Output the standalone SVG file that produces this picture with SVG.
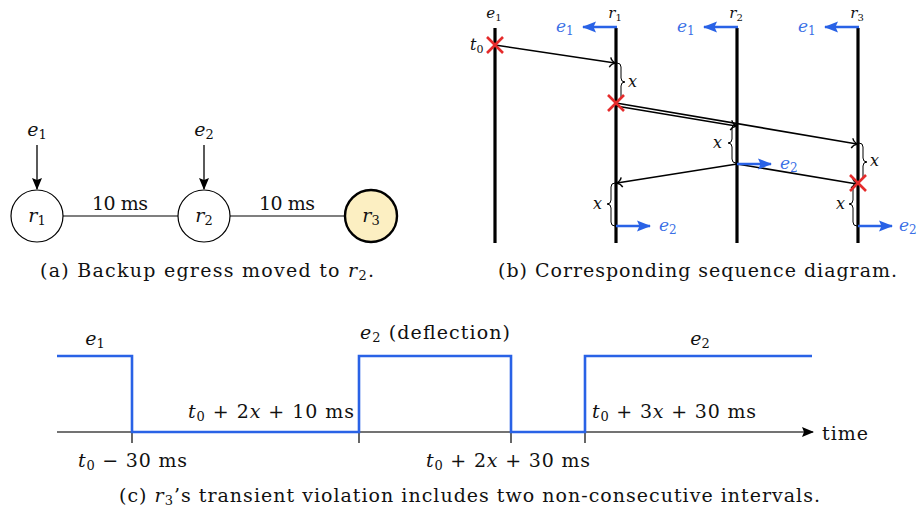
<svg xmlns="http://www.w3.org/2000/svg" width="918" height="513" viewBox="0 0 918 513" font-family="'DejaVu Serif',serif">
<defs>
<style>
text{font-family:"DejaVu Serif",serif;fill:#111}
.it{font-style:italic}
.b{fill:#3a6fe6}
.life{stroke:#000;stroke-width:3.2;fill:none}
.msg{stroke:#000;stroke-width:1.6;fill:none}
.br{stroke:#000;stroke-width:1;fill:none}
.blue{stroke:#2962e6;stroke-width:2.6;fill:none}
.x{stroke:#e52b2b;stroke-width:2.6;fill:none}
.edge{stroke:#555;stroke-width:1.4;fill:none}
</style>
<marker id="to" viewBox="-7 -6 9 12" refX="0" refY="0" markerWidth="9" markerHeight="12" markerUnits="userSpaceOnUse" orient="auto"><path d="M-5,-5 C-4,-2 -1,-0.5 0.5,0 C-1,0.5 -4,2 -5,5" fill="none" stroke="#000" stroke-width="1.4"/></marker>
<marker id="bt" viewBox="0 -6 14 12" refX="13" refY="0" markerWidth="14" markerHeight="12" markerUnits="userSpaceOnUse" orient="auto"><path d="M0,-5.5 L14,0 L0,5.5 L2.5,0 z" fill="#2962e6"/></marker>
<marker id="kt" viewBox="0 -6 12 12" refX="11" refY="0" markerWidth="12" markerHeight="12" markerUnits="userSpaceOnUse" orient="auto"><path d="M0,-5 L12,0 L0,5 L2,0 z" fill="#000"/></marker>
</defs>

<!-- Panel (a) -->
<g id="a-edges">
<line class="edge" x1="63" y1="216" x2="178" y2="216"/>
<line class="edge" x1="230" y1="216" x2="345" y2="216"/>
<line stroke="#000" stroke-width="1.3" x1="37" y1="145" x2="37" y2="189" marker-end="url(#kt)"/>
<line stroke="#000" stroke-width="1.3" x1="204" y1="145" x2="204" y2="189" marker-end="url(#kt)"/>
</g>
<g id="a-r1"><circle cx="37" cy="216" r="26" fill="#fff" stroke="#000" stroke-width="1.2"/><text x="37" y="222" font-size="19" text-anchor="middle"><tspan class="it">r</tspan><tspan font-size="13" dy="3">1</tspan></text></g>
<g id="a-r2"><circle cx="204" cy="216" r="26" fill="#fff" stroke="#000" stroke-width="1.2"/><text x="204" y="222" font-size="19" text-anchor="middle"><tspan class="it">r</tspan><tspan font-size="13" dy="3">2</tspan></text></g>
<g id="a-r3"><circle cx="371" cy="216" r="26" fill="#fcefc2" stroke="#000" stroke-width="2.4"/><text x="371" y="222" font-size="19" text-anchor="middle"><tspan class="it">r</tspan><tspan font-size="13" dy="3">3</tspan></text></g>
<g id="a-labels">
<text x="37" y="136" font-size="19" text-anchor="middle"><tspan class="it">e</tspan><tspan font-size="13" dy="3">1</tspan></text>
<text x="204" y="136" font-size="19" text-anchor="middle"><tspan class="it">e</tspan><tspan font-size="13" dy="3">2</tspan></text>
<text x="92" y="210" font-size="19" textLength="56">10 ms</text>
<text x="259" y="210" font-size="19" textLength="56">10 ms</text>
<text x="40" y="277" font-size="19" textLength="334">(a) Backup egress moved to <tspan class="it">r</tspan><tspan font-size="13" dy="3">2</tspan><tspan dy="-3">.</tspan></text>
</g>

<!-- Panel (b) -->
<g id="b-lifelines">
<line class="life" x1="495" y1="28" x2="495" y2="243"/>
<line class="life" x1="616" y1="28" x2="616" y2="243"/>
<line class="life" x1="737" y1="28" x2="737" y2="243"/>
<line class="life" x1="858" y1="28" x2="858" y2="243"/>
<text x="494" y="18" font-size="15" text-anchor="middle"><tspan class="it">e</tspan><tspan font-size="10" dy="3">1</tspan></text>
<text x="615" y="18" font-size="15" text-anchor="middle"><tspan class="it">r</tspan><tspan font-size="10" dy="3">1</tspan></text>
<text x="736" y="18" font-size="15" text-anchor="middle"><tspan class="it">r</tspan><tspan font-size="10" dy="3">2</tspan></text>
<text x="857" y="18" font-size="15" text-anchor="middle"><tspan class="it">r</tspan><tspan font-size="10" dy="3">3</tspan></text>
</g>
<g id="b-connectors">
<line class="blue" x1="617" y1="27" x2="583" y2="27" marker-end="url(#bt)"/>
<line class="blue" x1="738" y1="27" x2="704" y2="27" marker-end="url(#bt)"/>
<line class="blue" x1="859" y1="27" x2="825" y2="27" marker-end="url(#bt)"/>
<line class="msg" x1="495" y1="45" x2="615" y2="63" marker-end="url(#to)"/>
<line class="msg" x1="616" y1="103" x2="857" y2="144" marker-end="url(#to)"/>
<line class="msg" x1="616" y1="106" x2="736" y2="126" marker-end="url(#to)"/>
<line class="msg" x1="737" y1="164" x2="617" y2="183" marker-end="url(#to)"/>
<line class="msg" x1="737" y1="164" x2="857" y2="184" marker-end="url(#to)"/>
<line class="blue" x1="737" y1="164" x2="771" y2="164" marker-end="url(#bt)"/>
<line class="blue" x1="616" y1="226" x2="650" y2="226" marker-end="url(#bt)"/>
<line class="blue" x1="858" y1="226" x2="892" y2="226" marker-end="url(#bt)"/>
<path class="br" d="M617,63 q4,0 4,4 v11 q0,4 4,4 q-4,0 -4,4 v11 q0,4 -4,4"/>
<path class="br" d="M736,124 q-4,0 -4,4 v11 q0,4 -4,4 q4,0 4,4 v12 q0,4 4,4"/>
<path class="br" d="M859,143 q4,0 4,4 v11 q0,4 4,4 q-4,0 -4,4 v11 q0,4 -4,4"/>
<path class="br" d="M857,183 q-4,0 -4,4 v13 q0,4 -4,4 q4,0 4,4 v14 q0,4 4,4"/>
<path class="br" d="M615,183 q-4,0 -4,4 v13 q0,4 -4,4 q4,0 4,4 v14 q0,4 4,4"/>
<path class="x" d="M487,37 L503,53 M503,37 L487,53"/>
<path class="x" d="M608,95 L624,111 M624,95 L608,111"/>
<path class="x" d="M850,175 L866,191 M866,175 L850,191"/>
</g>
<g id="b-labels">
<text x="470" y="50" font-size="16" class="it">t<tspan font-size="11" dy="3" font-style="normal">0</tspan></text>
<text x="628" y="87" font-size="16" class="it">x</text>
<text x="713" y="148" font-size="16" class="it">x</text>
<text x="870" y="166" font-size="16" class="it">x</text>
<text x="836" y="209" font-size="16" class="it">x</text>
<text x="593" y="209" font-size="16" class="it">x</text>
<text class="b" x="556" y="32" font-size="17"><tspan class="it">e</tspan><tspan font-size="12" dy="3">1</tspan></text>
<text class="b" x="677" y="32" font-size="17"><tspan class="it">e</tspan><tspan font-size="12" dy="3">1</tspan></text>
<text class="b" x="798" y="32" font-size="17"><tspan class="it">e</tspan><tspan font-size="12" dy="3">1</tspan></text>
<text class="b" x="780" y="169" font-size="17"><tspan class="it">e</tspan><tspan font-size="12" dy="3">2</tspan></text>
<text class="b" x="659" y="231" font-size="17"><tspan class="it">e</tspan><tspan font-size="12" dy="3">2</tspan></text>
<text class="b" x="899" y="231" font-size="17"><tspan class="it">e</tspan><tspan font-size="12" dy="3">2</tspan></text>
<text x="498" y="277" font-size="19" textLength="399">(b) Corresponding sequence diagram.</text>
</g>

<!-- Panel (c) -->
<g id="c-axis">
<line stroke="#444" stroke-width="1.3" x1="57" y1="432" x2="813" y2="432" marker-end="url(#kt)"/>
<line stroke="#000" stroke-width="1.2" x1="132" y1="421" x2="132" y2="443"/>
<line stroke="#000" stroke-width="1.2" x1="359" y1="421" x2="359" y2="443"/>
<line stroke="#000" stroke-width="1.2" x1="511" y1="421" x2="511" y2="443"/>
<line stroke="#000" stroke-width="1.2" x1="585" y1="421" x2="585" y2="443"/>
<text x="822" y="440" font-size="19" textLength="46">time</text>
</g>
<g id="c-signal">
<path class="blue" stroke-width="3" d="M57,356 H132 V432 H359 V356 H511 V432 H585 V356 H812"/>
</g>
<g id="c-labels">
<text x="95" y="345" font-size="19" text-anchor="middle"><tspan class="it">e</tspan><tspan font-size="13" dy="3">1</tspan></text>
<text x="360" y="339" font-size="19" textLength="150"><tspan class="it">e</tspan><tspan font-size="13" dy="3">2</tspan><tspan dy="-3"> (deflection)</tspan></text>
<text x="700" y="345" font-size="19" text-anchor="middle"><tspan class="it">e</tspan><tspan font-size="13" dy="3">2</tspan></text>
<text x="188" y="418" font-size="19" textLength="166"><tspan class="it">t</tspan><tspan font-size="13" dy="3">0</tspan><tspan dy="-3"> + 2</tspan><tspan class="it">x</tspan> + 10 ms</text>
<text x="78" y="467" font-size="19" textLength="109"><tspan class="it">t</tspan><tspan font-size="13" dy="3">0</tspan><tspan dy="-3"> − 30 ms</tspan></text>
<text x="426" y="467" font-size="19" textLength="164"><tspan class="it">t</tspan><tspan font-size="13" dy="3">0</tspan><tspan dy="-3"> + 2</tspan><tspan class="it">x</tspan> + 30 ms</text>
<text x="592" y="418" font-size="19" textLength="164"><tspan class="it">t</tspan><tspan font-size="13" dy="3">0</tspan><tspan dy="-3"> + 3</tspan><tspan class="it">x</tspan> + 30 ms</text>
<text x="119" y="502" font-size="19" textLength="701">(c) <tspan class="it">r</tspan><tspan font-size="13" dy="3">3</tspan><tspan dy="-3">’s transient violation includes two non-consecutive intervals.</tspan></text>
</g>
</svg>
